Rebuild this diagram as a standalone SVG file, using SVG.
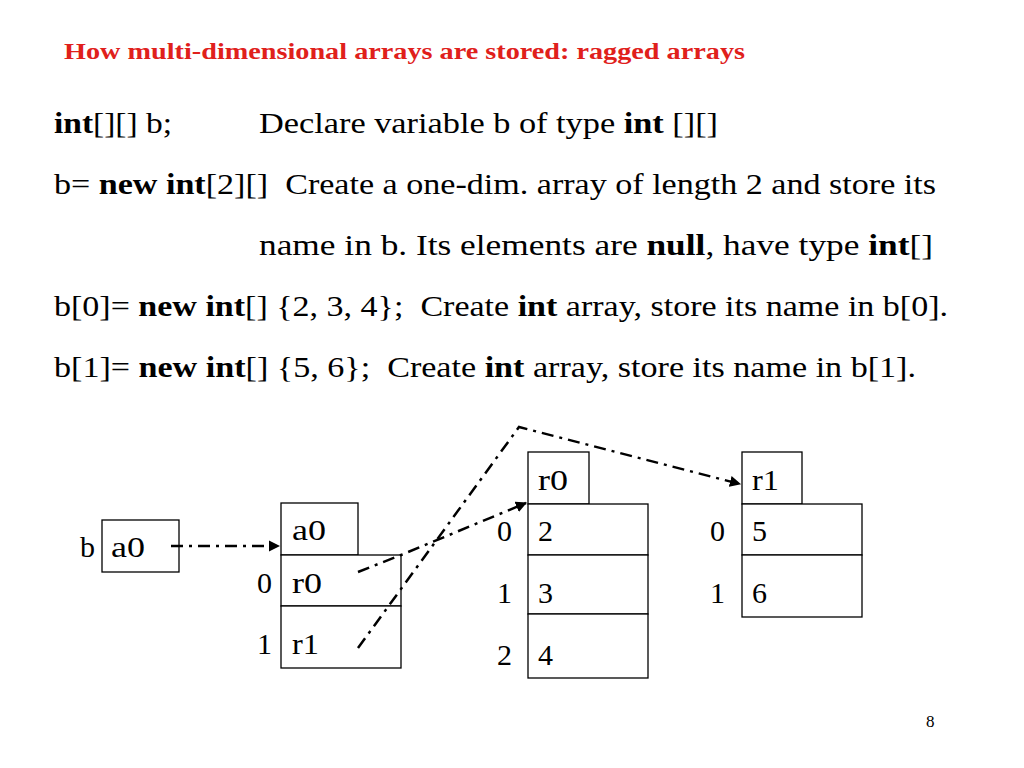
<svg xmlns="http://www.w3.org/2000/svg" width="1024" height="768" viewBox="0 0 1024 768">
<defs>
<style>
.t{font-family:"Liberation Serif","Times New Roman",serif;font-size:30px;fill:#000}
.d{font-family:"Liberation Serif","Times New Roman",serif;font-size:30px;fill:#000}
.b{font-weight:bold}
.box{fill:#fff;stroke:#000;stroke-width:1.3}
.c{fill:none;stroke:#000;stroke-width:2.5;stroke-dasharray:12 6 3 6}
</style>
<marker id="ah" viewBox="0 0 10 10" refX="9" refY="5" markerWidth="4.5" markerHeight="4.5" orient="auto" markerUnits="strokeWidth">
<path d="M0,0 L10,5 L0,10 z" fill="#000"/>
</marker>
</defs>
<rect width="1024" height="768" fill="#fff"/>
<text x="64" y="59" font-family="Liberation Serif, serif" font-size="24" font-weight="bold" fill="#e0201b" textLength="681" lengthAdjust="spacingAndGlyphs">How multi-dimensional arrays are stored: ragged arrays</text>
<text class="t" x="54" y="133" textLength="118" lengthAdjust="spacingAndGlyphs"><tspan class="b">int</tspan>[][] b;</text>
<text class="t" x="259" y="133" textLength="459" lengthAdjust="spacingAndGlyphs">Declare variable b of type <tspan class="b">int</tspan> [][]</text>
<text class="t" x="54" y="194" xml:space="preserve" textLength="882" lengthAdjust="spacingAndGlyphs">b= <tspan class="b">new int</tspan>[2][]  Create a one-dim. array of length 2 and store its</text>
<text class="t" x="259" y="255" textLength="674" lengthAdjust="spacingAndGlyphs">name in b. Its elements are <tspan class="b">null</tspan>, have type <tspan class="b">int</tspan>[]</text>
<text class="t" x="54" y="316" xml:space="preserve" textLength="894" lengthAdjust="spacingAndGlyphs">b[0]= <tspan class="b">new int</tspan>[] {2, 3, 4};  Create <tspan class="b">int</tspan> array, store its name in b[0].</text>
<text class="t" x="54" y="377" xml:space="preserve" textLength="862" lengthAdjust="spacingAndGlyphs">b[1]= <tspan class="b">new int</tspan>[] {5, 6};  Create <tspan class="b">int</tspan> array, store its name in b[1].</text>

<g id="b">
<text class="d" x="80" y="557">b</text>
<rect class="box" x="102" y="520" width="77" height="52"/>
<text class="d" x="111" y="557" textLength="34" lengthAdjust="spacingAndGlyphs">a0</text>
</g>
<g id="a0">
<rect class="box" x="281" y="503" width="77" height="52"/>
<text class="d" x="292" y="540" textLength="34" lengthAdjust="spacingAndGlyphs">a0</text>
<rect class="box" x="281" y="555" width="120" height="51"/>
<rect class="box" x="281" y="606" width="120" height="62"/>
<text class="d" x="257" y="593">0</text>
<text class="d" x="292" y="593" textLength="30" lengthAdjust="spacingAndGlyphs">r0</text>
<text class="d" x="257" y="654">1</text>
<text class="d" x="292" y="654" textLength="27" lengthAdjust="spacingAndGlyphs">r1</text>
</g>
<g id="r0">
<rect class="box" x="528" y="452" width="61" height="52"/>
<text class="d" x="538" y="490" textLength="30" lengthAdjust="spacingAndGlyphs">r0</text>
<rect class="box" x="528" y="504" width="120" height="51"/>
<rect class="box" x="528" y="555" width="120" height="59"/>
<rect class="box" x="528" y="614" width="120" height="64"/>
<text class="d" x="497" y="541">0</text>
<text class="d" x="538" y="541">2</text>
<text class="d" x="497" y="603">1</text>
<text class="d" x="538" y="603">3</text>
<text class="d" x="497" y="665">2</text>
<text class="d" x="538" y="665">4</text>
</g>
<g id="r1">
<rect class="box" x="742" y="452" width="60" height="52"/>
<text class="d" x="752" y="490" textLength="27" lengthAdjust="spacingAndGlyphs">r1</text>
<rect class="box" x="742" y="504" width="120" height="51"/>
<rect class="box" x="742" y="555" width="120" height="62"/>
<text class="d" x="710" y="541">0</text>
<text class="d" x="752" y="541">5</text>
<text class="d" x="710" y="603">1</text>
<text class="d" x="752" y="603">6</text>
</g>
<g id="connectors">
<path class="c" d="M171,546 L279,546" marker-end="url(#ah)"/>
<path class="c" d="M358,572 L401,555 L526,503" marker-end="url(#ah)"/>
<path class="c" d="M358,648 L519,427 L740,484" marker-end="url(#ah)"/>
</g>
<text x="926" y="727" font-family="Liberation Serif, serif" font-size="17" fill="#000">8</text>
</svg>
